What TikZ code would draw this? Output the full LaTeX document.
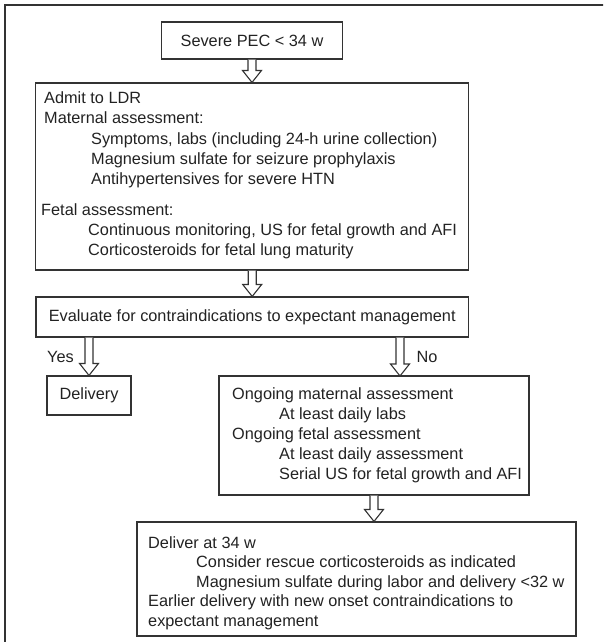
\documentclass[tikz,border=0pt]{standalone}
\usepackage{fontspec}
\setmainfont{Liberation Sans}
\usetikzlibrary{calc}

\definecolor{ink}{HTML}{222222}
\definecolor{rule}{HTML}{333333}

\tikzset{
  frame/.style={draw=rule, line width=1.6pt},
  box/.style={draw=rule, line width=1.1pt, rectangle, inner sep=0pt,
              text=ink, font=\fontsize{16.3}{20}\selectfont},
  txt/.style={anchor=base west, inner sep=0pt, text=ink,
              font=\fontsize{16.3}{20}\selectfont},
  hollow/.style={draw=rule, line width=1.1pt, fill=white, line join=miter},
}

% hollow block arrow pointing down, from #1 to #2 (same x)
\newcommand\downarrowblock[2]{%
  \draw[hollow] let \p1=#1, \p2=#2 in
    (\x1-4pt,\y1) -- (\x1-4pt,\y2+12pt) -- (\x1-9.5pt,\y2+12pt) --
    (\x1,\y2) -- (\x1+9.5pt,\y2+12pt) -- (\x1+4pt,\y2+12pt) --
    (\x1+4pt,\y1);}

\begin{document}
\begin{tikzpicture}[x=1pt, y=-1pt]
  \useasboundingbox (0,0) rectangle (603,642);
  \clip (0,0) rectangle (603,642);

  % surrounding frame, open towards the right and the bottom
  \draw[frame] (5,650) -- (5,5) -- (610,5);

  % boxes
  \node[box, minimum width=181pt, minimum height=37pt] (top) at (252,40.5) {Severe PEC < 34 w};
  \node[box, minimum width=432.7pt, minimum height=187pt] (admit) at (252.2,176.5) {};
  \node[box, minimum width=432.5pt, minimum height=40pt] (eval) at (252.2,317)
       {Evaluate for contraindications to expectant management};
  \node[box, minimum width=84pt, minimum height=39pt] (delivery) at (89,395.5) {Delivery};
  \node[box, minimum width=310pt, minimum height=119pt] (ongoing) at (374,435.5) {};
  \node[box, minimum width=439pt, minimum height=114pt] (deliver) at (356.5,579) {};

  % admission box text
  \node[txt] (a1) at (44,103)   {Admit to LDR};
  \node[txt] (a2) at (44,123.5) {Maternal assessment:};
  \node[txt] (a3) at (91,144)   {Symptoms, labs (including 24-h urine collection)};
  \node[txt] (a4) at (91,164)   {Magnesium sulfate for seizure prophylaxis};
  \node[txt] (a5) at (91,184.5) {Antihypertensives for severe HTN};
  \node[txt] (a6) at (41,215)   {Fetal assessment:};
  \node[txt] (a7) at (88,235.5) {Continuous monitoring, US for fetal growth and AFI};
  \node[txt] (a8) at (88,255.5) {Corticosteroids for fetal lung maturity};

  % expectant management box text
  \node[txt] (o1) at (232,399) {Ongoing maternal assessment};
  \node[txt] (o2) at (279,419.5) {At least daily labs};
  \node[txt] (o3) at (232,439.5) {Ongoing fetal assessment};
  \node[txt] (o4) at (279,459.5) {At least daily assessment};
  \node[txt] (o5) at (279,479) {Serial US for fetal growth and AFI};

  % delivery plan box text
  \node[txt] (d1) at (148,548) {Deliver at 34 w};
  \node[txt] (d2) at (196,567.5) {Consider rescue corticosteroids as indicated};
  \node[txt] (d3) at (196,587) {Magnesium sulfate during labor and delivery <32 w};
  \node[txt] (d4) at (148,606.5) {Earlier delivery with new onset contraindications to};
  \node[txt] (d5) at (148,626) {expectant management};

  % branch labels
  \node[txt] (yes) at (47,362) {Yes};
  \node[txt] (no) at (416.5,362) {No};

  % end of the "No" branch
  \coordinate (noend) at (400,376);

  % arrows
  \downarrowblock{(top.south)}{(admit.north)}
  \downarrowblock{(admit.south)}{(eval.north)}
  \downarrowblock{(eval.south -| delivery.north)}{(delivery.north)}
  \downarrowblock{(eval.south -| noend)}{(noend)}
  \downarrowblock{(ongoing.south)}{(ongoing.south |- deliver.north)}
\end{tikzpicture}
\end{document}
